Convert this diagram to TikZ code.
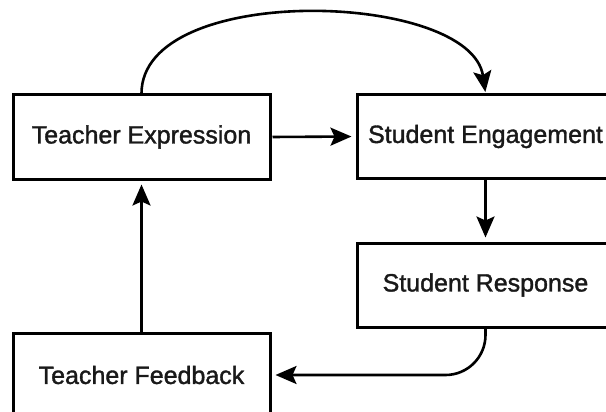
\documentclass[tikz,border=0pt]{standalone}
\usepackage{fontspec}
\setmainfont{Liberation Sans}
\newfontfamily\lblfont{Liberation Sans}[FakeBold=1.4]
\usetikzlibrary{arrows.meta,calc}
\tikzset{
  box/.style={draw=black, line width=3pt, minimum width=257pt, minimum height=84pt,
              inner sep=0pt, font=\lblfont\fontsize{25}{29}\selectfont, text=black!90},
  conn/.style={line width=2.6pt, -{Stealth[length=21pt,width=18pt,inset=4pt]}}
}
\begin{document}
\begin{tikzpicture}[x=1pt,y=-1pt]
  \clip (0,0) rectangle (606,412);
  \fill[white] (0,0) rectangle (606,412);
  \node[box] (te) at (141.5,137) {Teacher Expression};
  \node[box] (se) at (485.5,136.5) {Student Engagement};
  \node[box] (sr) at (485.5,285) {Student Response};
  \node[box] (tf) at (141.5,375) {Teacher Feedback};
  \draw[conn, shorten >=4pt, shorten <=1pt] (te.east) -- (se.west);
  \draw[conn, shorten >=1pt] (te.north) .. controls +(0,-112) and +(-15,-102) .. (se.north);
  \draw[conn, shorten >=4pt] (se.south) -- (sr.north);
  \draw[conn, shorten >=4pt, rounded corners=40pt] (sr.south) |- (tf.east);
  \draw[conn, shorten >=4pt] (tf.north) -- (te.south);
\end{tikzpicture}
\end{document}
